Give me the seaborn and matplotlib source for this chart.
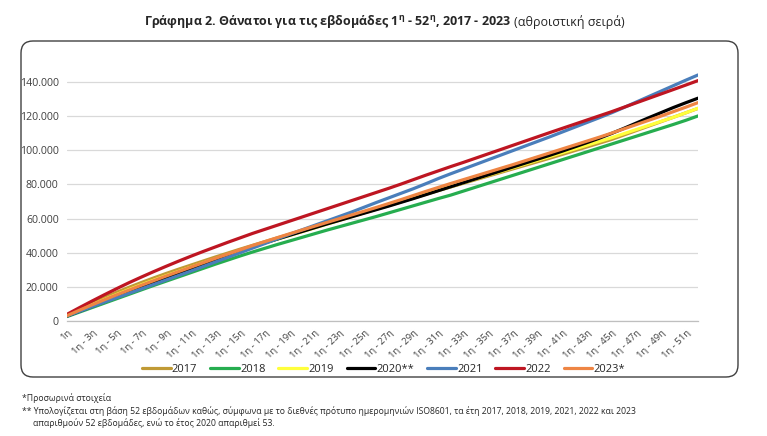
import numpy as np
import pandas as pd
import matplotlib
matplotlib.use("Agg")
import matplotlib.pyplot as plt
import matplotlib.ticker as mticker
from matplotlib.patches import FancyBboxPatch
from matplotlib.transforms import IdentityTransform
import seaborn as sns

# Εβδομάδες (κατηγορίες άξονα x)
weeks = ["1η"] + [f"1η - {i}η" for i in range(2, 53)]

# Αθροιστικοί θάνατοι ανά εβδομάδα (εκτίμηση από το γράφημα)
y2017 = [3300, 6900, 10400, 13700, 16800, 19700, 22500, 25200, 27800, 30300,
         32700, 35100, 37500, 39800, 42100, 44300, 46500, 48700, 50800, 52900,
         55000, 57100, 59200, 61300, 63400, 65500, 67600, 69800, 72000, 74200,
         76400, 78500, 80600, 82700, 84800, 86900, 89000, 91100, 93200, 95300,
         97500, 99700, 101900, 104100, 106300, 108900, 111500, 114100, 116700,
         119300, 121900, 124500]
y2018 = [2600, 5200, 7800, 10400, 13000, 15600, 18200, 20800, 23300, 25800,
         28300, 30800, 33300, 35700, 38100, 40400, 42600, 44800, 46900, 49000,
         51100, 53200, 55200, 57200, 59200, 61200, 63300, 65400, 67500, 69600,
         71700, 73700, 76000, 78300, 80600, 82900, 85200, 87500, 89800, 92100,
         94400, 96700, 99000, 101300, 103600, 105900, 108200, 110500, 112800,
         115100, 117500, 120100]
y2019 = [3000, 6200, 9400, 12500, 15500, 18400, 21200, 23900, 26500, 29000,
         31500, 34000, 36400, 38800, 41200, 43500, 45700, 47900, 50100, 52300,
         54500, 56700, 58900, 61100, 63300, 65500, 67700, 69900, 72100, 74300,
         76500, 78700, 80900, 83100, 85300, 87500, 89700, 91900, 94100, 96300,
         98500, 100700, 102900, 105100, 107300, 109700, 112100, 114500, 116900,
         119300, 121900, 124600]
y2020 = [2900, 5700, 8500, 11300, 14100, 16900, 19600, 22300, 25000, 27700,
         30400, 33100, 35800, 38400, 41000, 43600, 45800, 48000, 50200, 52400,
         54600, 56800, 58900, 61000, 63100, 65200, 67300, 69500, 71700, 74000,
         76300, 78600, 80900, 83200, 85500, 87800, 90100, 92400, 94700, 97000,
         99400, 101900, 104400, 107000, 109800, 112800, 115900, 119000, 122000,
         125000, 127800, 130500]
y2021 = [2900, 5600, 8300, 11000, 13600, 16200, 18800, 21400, 24000, 26600,
         29200, 31900, 34600, 37300, 40000, 42700, 45400, 48100, 50800, 53400,
         56000, 58600, 61200, 63800, 66600, 69400, 72100, 74800, 77500, 80400,
         83400, 86200, 88900, 91600, 94300, 97000, 99700, 102400, 105100, 107800,
         110600, 113400, 116200, 119000, 121900, 125000, 128200, 131400, 134600,
         137800, 141000, 144100]
y2022 = [3900, 7800, 11600, 15300, 18900, 22400, 25700, 28900, 32000, 35000,
         37900, 40700, 43400, 46100, 48700, 51300, 53700, 56100, 58500, 60900,
         63300, 65700, 68100, 70500, 72900, 75300, 77700, 80200, 82800, 85400,
         87900, 90400, 92800, 95300, 97800, 100300, 102800, 105300, 107800, 110300,
         112750, 115200, 117650, 120100, 122550, 125150, 127750, 130350, 132950,
         135550, 138150, 140800]
y2023 = [3100, 6300, 9400, 12400, 15300, 18100, 20900, 23600, 26300, 28900,
         31500, 34100, 36700, 39200, 41700, 44200, 46500, 48800, 51100, 53300,
         55500, 57700, 59900, 62100, 64300, 66500, 68800, 71100, 73500, 75900,
         78200, 80500, 82700, 84900, 87100, 89300, 91500, 93800, 96100, 98400,
         100700, 103000, 105300, 107600, 110000, 112500, 115000, 117500, 120000,
         122600, 125200, 127900]

years = ["2017", "2018", "2019", "2020**", "2021", "2022", "2023*"]
series = [y2017, y2018, y2019, y2020, y2021, y2022, y2023]
colors = ["#C09A35", "#26AD4F", "#FFFF3C", "#000000", "#4A7EBB", "#BE1622", "#EE8544"]

sns.set_style("white")
plt.rcParams["font.family"] = ["Open Sans", "DejaVu Sans"]

fig = plt.figure(figsize=(7.67, 4.36), dpi=100)
ax = fig.add_axes([0.0874, 0.2638, 0.8227, 0.5874])

x = np.arange(len(weeks))
for name, vals, col in zip(years, series, colors):
    sns.lineplot(x=x, y=vals, ax=ax, color=col, lw=2.3, label=name)

ax.set_xlim(0, len(weeks) - 1)
ax.set_ylim(0, 150000)
ax.set_yticks(np.arange(0, 140001, 20000))
ax.yaxis.set_major_formatter(mticker.FuncFormatter(lambda v, p: f"{int(v):,}".replace(",", ".")))
ax.grid(axis="y", color="#D9D9D9", lw=0.9)
ax.grid(axis="x", visible=False)
ax.set_axisbelow(True)

ax.set_xticks(x[::2])
ax.set_xticklabels(weeks[::2], rotation=45, ha="right", rotation_mode="anchor",
                   fontsize=6.8, color="#404040")
ax.set_xticks(x, minor=True)
ax.tick_params(axis="x", which="both", length=3, color="#BFBFBF", width=0.8, pad=2)
ax.tick_params(axis="y", length=0, labelsize=7.6, labelcolor="#404040", pad=6)

for s in ["top", "right", "left"]:
    ax.spines[s].set_visible(False)
ax.spines["bottom"].set_color("#BFBFBF")
ax.spines["bottom"].set_linewidth(0.9)

handles, labels = ax.get_legend_handles_labels()
ax.get_legend().remove()
fig.legend(handles, labels, loc="center", bbox_to_anchor=(0.5, 1 - 369 / 436), ncol=7,
           frameon=False, fontsize=8, handlelength=2.6, handletextpad=0.1,
           columnspacing=1.15)

# πλαίσιο γραφήματος με στρογγυλεμένες γωνίες
frame = FancyBboxPatch((21, 436 - 377), 717, 336, boxstyle="round,pad=0,rounding_size=12",
                       transform=IdentityTransform(), fill=False, edgecolor="#404040", lw=1.0)
fig.add_artist(frame)

# τίτλος
fig.text(0.667, 1 - 22 / 436, r"Γράφημα 2. Θάνατοι για τις εβδομάδες 1$^{\mathregular{η}}$ - 52$^{\mathregular{η}}$, 2017 - 2023",
         ha="right", va="center", fontsize=9, fontweight="bold")
fig.text(0.670, 1 - 22 / 436, "(αθροιστική σειρά)", ha="left", va="center", fontsize=9)

# σημειώσεις
fig.text(22 / 767, 1 - 398 / 436, "*Προσωρινά στοιχεία", fontsize=6.2, va="center")
fig.text(22 / 767, 1 - 411 / 436,
         "** Υπολογίζεται στη βάση 52 εβδομάδων καθώς, σύμφωνα με το διεθνές πρότυπο ημερομηνιών ISO8601, "
         "τα έτη 2017, 2018, 2019, 2021, 2022 και 2023", fontsize=6.2, va="center")
fig.text(33 / 767, 1 - 423 / 436, "απαριθμούν 52 εβδομάδες, ενώ το έτος 2020 απαριθμεί 53.",
         fontsize=6.2, va="center")

fig.savefig("out.png", dpi=100)
